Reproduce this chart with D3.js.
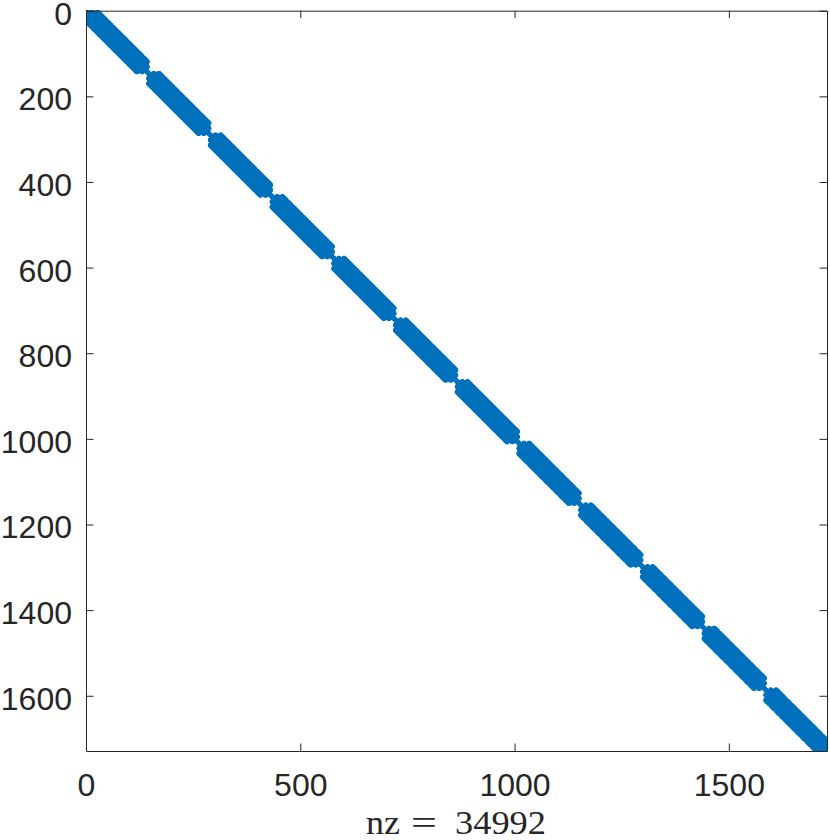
<!DOCTYPE html>
<html>
<head>
<meta charset="utf-8">
<script src="https://cdn.jsdelivr.net/npm/d3@7"></script>
<style>
  html, body { margin: 0; padding: 0; background: #fff; }
  svg { display: block; }
</style>
</head>
<body>
<div id="chart"></div>
<script>
// ---- Data: sparsity pattern description (block-diagonal, each block a 12x12 grid with a 5x5 stencil)
const blockCount = 12;
const gridSide = 12;
const stencilDx = [-2, -1, 0, 1, 2];
const stencilDy = [-2, -1, 0, 1, 2];
const xTickValues = [0, 500, 1000, 1500];
const yTickValues = [0, 200, 400, 600, 800, 1000, 1200, 1400, 1600];
const xLabelParts = ["nz", "=", "34992"];

// ---- Build nonzero entries (row, col), 1-based like MATLAB spy
const blockSize = gridSide * gridSide;
const nSize = blockCount * blockSize;
const nonzeros = [];
for (let b = 0; b < blockCount; b++) {
  for (let gy = 0; gy < gridSide; gy++) {
    for (let gx = 0; gx < gridSide; gx++) {
      const row = b * blockSize + gy * gridSide + gx + 1;
      for (const dy of stencilDy) {
        for (const dx of stencilDx) {
          const ny = gy + dy, nx = gx + dx;
          if (ny < 0 || ny >= gridSide || nx < 0 || nx >= gridSide) continue;
          nonzeros.push([row, b * blockSize + ny * gridSide + nx + 1]);
        }
      }
    }
  }
}

const W = 830, H = 840;
const pL = 86, pR = 827, pT = 10.7, pB = 751;
const ink = "#262626";
const blue = "#0072BD";

const svg = d3.select("#chart").append("svg")
  .attr("width", W).attr("height", H)
  .attr("viewBox", `0 0 ${W} ${H}`);

const xs = d3.scaleLinear().domain([0, nSize + 1]).range([pL, pR]);
const ys = d3.scaleLinear().domain([0, nSize + 1]).range([pT, pB]);

svg.append("clipPath").attr("id", "clip")
  .append("rect").attr("x", pL).attr("y", pT)
  .attr("width", pR - pL).attr("height", pB - pT);

svg.append("g").attr("clip-path", "url(#clip)")
  .selectAll("circle").data(nonzeros).join("circle")
  .attr("cx", d => xs(d[1]))
  .attr("cy", d => ys(d[0]))
  .attr("r", 1.9)
  .attr("fill", blue);

const tickLen = 7.5;
function styleAxis(g) {
  g.selectAll("path.domain").attr("stroke", ink).attr("stroke-width", 1);
  g.selectAll(".tick line").attr("stroke", ink).attr("stroke-width", 1);
  g.selectAll("text").attr("fill", ink)
    .style("font-family", "'Liberation Sans', Arial, Helvetica, sans-serif")
    .style("font-size", "32px");
}

svg.append("g").attr("transform", `translate(0,${pB})`)
  .call(d3.axisBottom(xs).tickValues(xTickValues).tickFormat(d3.format("d"))
    .tickSizeInner(-tickLen).tickSizeOuter(0).tickPadding(22.5))
  .call(styleAxis);

svg.append("g").attr("transform", `translate(0,${pT})`)
  .call(d3.axisTop(xs).tickValues(xTickValues).tickFormat("")
    .tickSizeInner(-tickLen).tickSizeOuter(0))
  .call(styleAxis);

svg.append("g").attr("transform", `translate(${pL},0)`)
  .call(d3.axisLeft(ys).tickValues(yTickValues).tickFormat(d3.format("d"))
    .tickSizeInner(-tickLen).tickSizeOuter(0).tickPadding(14))
  .call(styleAxis)
  .call(g => g.selectAll("text").attr("dy", "0.42em"));

svg.append("g").attr("transform", `translate(${pR},0)`)
  .call(d3.axisRight(ys).tickValues(yTickValues).tickFormat("")
    .tickSizeInner(-tickLen).tickSizeOuter(0))
  .call(styleAxis);

// x label "nz = 34992", TeX-like spacing
const labelSpec = [
  { text: xLabelParts[0], x0: 366, len: 34 },
  { text: xLabelParts[1], x0: 411, len: 26 },
  { text: xLabelParts[2], x0: 455, len: 91 }
];
const lab = svg.append("g");
labelSpec.forEach(p => {
  lab.append("text")
    .attr("x", p.x0).attr("y", 834)
    .attr("textLength", p.len).attr("lengthAdjust", "spacingAndGlyphs")
    .attr("fill", ink)
    .style("font-family", "'Liberation Serif', 'DejaVu Serif', serif")
    .style("font-size", "34px")
    .text(p.text);
});
</script>
</body>
</html>
